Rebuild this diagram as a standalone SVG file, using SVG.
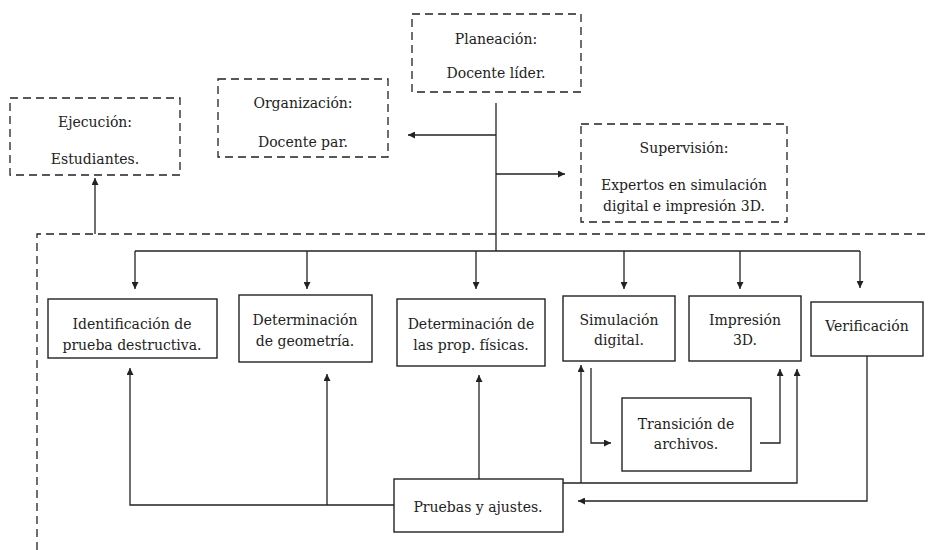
<svg xmlns="http://www.w3.org/2000/svg" width="928" height="550" viewBox="0 0 928 550">
<style>
.d{fill:none;stroke:#222;stroke-width:1.3;stroke-dasharray:8,5}
.b{fill:#fff;stroke:#222;stroke-width:1.4}
.c{fill:none;stroke:#222;stroke-width:1.3}
.t text{font-size:14px;fill:#222;text-anchor:middle}
</style>
<defs>
<marker id="a" viewBox="0 0 10 10" refX="10" refY="5" markerWidth="7" markerHeight="7" markerUnits="userSpaceOnUse" orient="auto">
<path d="M0,0 L10,5 L0,10 z" fill="#222"/>
</marker>
</defs>
<g id="frame"><path class="d" d="M37,550 V234 H928"/></g>
<g class="t" font-family="DejaVu Serif, Liberation Serif, serif">
<g id="ejecucion"><rect class="d" x="10" y="98" width="170" height="77"/><text x="95" y="127">Ejecución:</text><text x="95" y="164">Estudiantes.</text></g>
<g id="organizacion"><rect class="d" x="218" y="79" width="170" height="78"/><text x="303" y="108">Organización:</text><text x="303" y="147">Docente par.</text></g>
<g id="planeacion"><rect class="d" x="412" y="14" width="169" height="78"/><text x="496" y="44">Planeación:</text><text x="496" y="78">Docente líder.</text></g>
<g id="supervision"><rect class="d" x="581" y="124" width="206" height="98"/><text x="684" y="153">Supervisión:</text><text x="684" y="190">Expertos en simulación</text><text x="684" y="211">digital e impresión 3D.</text></g>
<g id="identificacion"><rect class="b" x="48" y="299" width="169" height="59"/><text x="132" y="329">Identificación de</text><text x="132" y="350">prueba destructiva.</text></g>
<g id="geometria"><rect class="b" x="239" y="295" width="133" height="67"/><text x="305" y="325">Determinación</text><text x="305" y="346">de geometría.</text></g>
<g id="propiedades"><rect class="b" x="397" y="299" width="148" height="67"/><text x="471" y="329">Determinación de</text><text x="471" y="350">las prop. físicas.</text></g>
<g id="simulacion"><rect class="b" x="563" y="296" width="112" height="65"/><text x="619" y="325">Simulación</text><text x="619" y="345">digital.</text></g>
<g id="impresion"><rect class="b" x="689" y="296" width="112" height="65"/><text x="745" y="325">Impresión</text><text x="745" y="345">3D.</text></g>
<g id="verificacion"><rect class="b" x="811" y="302" width="112" height="54"/><text x="867" y="331">Verificación</text></g>
<g id="transicion"><rect class="b" x="622" y="398" width="129" height="73"/><text x="686" y="429">Transición de</text><text x="686" y="449">archivos.</text></g>
<g id="pruebas"><rect class="b" x="394" y="479" width="169" height="53"/><text x="478" y="512">Pruebas y ajustes.</text></g>
</g>
<g id="connectors">
<path class="c" d="M496,103 V251"/>
<path class="c" d="M496,135 H408" marker-end="url(#a)"/>
<path class="c" d="M496,174 H565" marker-end="url(#a)"/>
<path class="c" d="M95,234 V178" marker-end="url(#a)"/>
<path class="c" d="M135,251 H860"/>
<path class="c" d="M135,251 V289" marker-end="url(#a)"/>
<path class="c" d="M307,251 V289" marker-end="url(#a)"/>
<path class="c" d="M476,251 V289" marker-end="url(#a)"/>
<path class="c" d="M624,251 V289" marker-end="url(#a)"/>
<path class="c" d="M740,251 V289" marker-end="url(#a)"/>
<path class="c" d="M860,251 V288" marker-end="url(#a)"/>
<path class="c" d="M394,505 H130 V368" marker-end="url(#a)"/>
<path class="c" d="M327,505 V374" marker-end="url(#a)"/>
<path class="c" d="M479,479 V375" marker-end="url(#a)"/>
<path class="c" d="M563,483 H797 V369" marker-end="url(#a)"/>
<path class="c" d="M581,483 V365" marker-end="url(#a)"/>
<path class="c" d="M591,368 V443 H611" marker-end="url(#a)"/>
<path class="c" d="M760,443 H780 V369" marker-end="url(#a)"/>
<path class="c" d="M867,356 V501 H578" marker-end="url(#a)"/>
</g>
</svg>
